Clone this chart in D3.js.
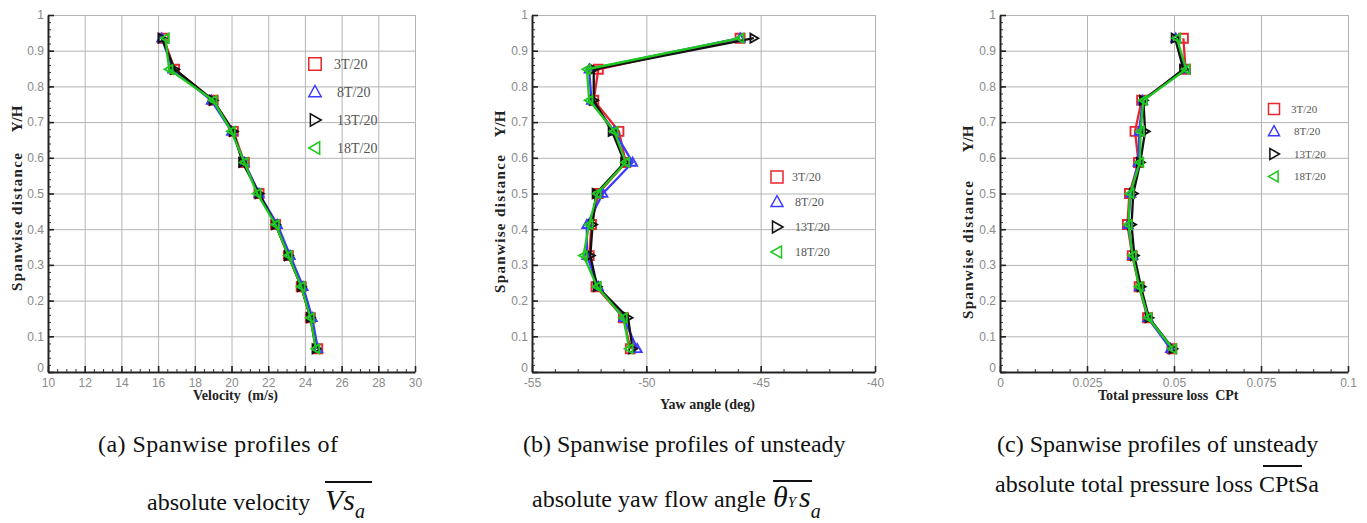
<!doctype html>
<html>
<head>
<meta charset="UTF-8">
<script src="https://cdnjs.cloudflare.com/ajax/libs/d3/7.8.5/d3.min.js"></script>
<style>body{margin:0;background:#fff}</style>
</head>
<body>
<svg id="chart" width="1367" height="523"></svg>
<script>
// shared spanwise positions (Y/H)
var spanY = [0.935, 0.848, 0.761, 0.674, 0.587, 0.5, 0.413, 0.326, 0.239, 0.152, 0.065];
var seriesNames = ["3T/20", "8T/20", "13T/20", "18T/20"];
var seriesColors = ["#e8262d", "#3c3cff", "#111111", "#1ec81e"];
var seriesMarkers = ["square", "up", "right", "left"];

// (a) velocity m/s
var vel3  = [16.3, 16.9, 19.0, 20.1, 20.7, 21.5, 22.4, 23.1, 23.8, 24.3, 24.7];
var vel8  = [16.2, 16.8, 18.9, 20.0, 20.7, 21.5, 22.5, 23.2, 23.9, 24.4, 24.7];
var vel13 = [16.2, 16.9, 19.0, 20.1, 20.6, 21.5, 22.4, 23.1, 23.8, 24.3, 24.6];
var vel18 = [16.4, 16.6, 19.0, 20.0, 20.7, 21.4, 22.4, 23.1, 23.8, 24.3, 24.6];

// (b) yaw angle deg
var yaw3  = [-45.9, -52.1, -52.3, -51.2, -50.9, -52.1, -52.4, -52.5, -52.2, -51.0, -50.7];
var yaw8  = [-45.9, -52.5, -52.4, -51.4, -50.6, -51.9, -52.6, -52.6, -52.1, -51.0, -50.4];
var yaw13 = [-45.3, -52.3, -52.3, -51.5, -50.95, -52.2, -52.35, -52.45, -52.15, -50.8, -50.6];
var yaw18 = [-45.9, -52.6, -52.5, -51.4, -50.9, -52.15, -52.5, -52.75, -52.15, -51.0, -50.75];

// (c) total pressure loss CPt
var cpt3  = [0.0527, 0.0533, 0.0407, 0.0388, 0.0398, 0.0372, 0.0366, 0.0380, 0.0400, 0.0424, 0.0494];
var cpt8  = [0.0505, 0.0532, 0.0410, 0.0400, 0.0397, 0.0376, 0.0368, 0.0382, 0.0401, 0.0425, 0.0490];
var cpt13 = [0.0503, 0.0527, 0.0412, 0.0417, 0.0403, 0.0383, 0.0378, 0.0386, 0.0405, 0.0428, 0.0497];
var cpt18 = [0.0508, 0.0535, 0.0412, 0.0404, 0.0402, 0.0374, 0.0369, 0.0381, 0.0400, 0.0426, 0.0496];

var yTicks = [0, 0.1, 0.2, 0.3, 0.4, 0.5, 0.6, 0.7, 0.8, 0.9, 1];
var xTicksA = [10, 12, 14, 16, 18, 20, 22, 24, 26, 28, 30];
var xTicksB = [-55, -50, -45, -40];
var xTicksC = [0, 0.025, 0.05, 0.075, 0.1];

var plotTop = 15, plotBottom = 372;

var panels = [
  {left: 48, right: 415, ticks: xTicksA, minor: 0.5, series: [vel3, vel8, vel13, vel18],
   xTitle: "Velocity  (m/s)", xTitleX: 193, xTitleY: 400, yTitleX: 22, yhY: 119, spanMid: 222,
   legX: 315, legY: 64, legDy: 28, legS: 6.2, legFont: 14, legTx: 334},
  {left: 532, right: 875, ticks: xTicksB, minor: 1, series: [yaw3, yaw8, yaw13, yaw18],
   xTitle: "Yaw angle (deg)", xTitleX: 660, xTitleY: 409, yTitleX: 505, yhY: 124, spanMid: 224,
   legX: 777, legY: 177, legDy: 25, legS: 6, legFont: 12, legTx: 792},
  {left: 1000, right: 1348, ticks: xTicksC, minor: 0.005, series: [cpt3, cpt8, cpt13, cpt18],
   xTitle: "Total pressure loss  CPt", xTitleX: 1098, xTitleY: 400, yTitleX: 973, yhY: 139, spanMid: 250,
   legX: 1274, legY: 109, legDy: 22.5, legS: 5.5, legFont: 11, legTx: 1291}
];

function markerPath(type, s) {
  if (type === "square") return "M" + (-s) + "," + (-s) + "h" + 2 * s + "v" + 2 * s + "h" + (-2 * s) + "Z";
  if (type === "up") return "M0," + (-s * 1.05) + "L" + s + "," + s * 0.75 + "L" + (-s) + "," + s * 0.75 + "Z";
  if (type === "right") return "M" + s + ",0L" + (-s * 0.75) + "," + (-s) + "L" + (-s * 0.75) + "," + s + "Z";
  return "M" + (-s) + ",0L" + s * 0.75 + "," + (-s) + "L" + s * 0.75 + "," + s + "Z";
}
// plain hyphen for negatives, like the original plot
function fmt(d) { return String(d); }

var serif = "'Liberation Serif', 'Times New Roman', serif";
var sans = "'Liberation Sans', Arial, sans-serif";

var svg = d3.select("#chart");
var y = d3.scaleLinear().domain([0, 1]).range([plotBottom, plotTop]);

panels.forEach(function (p) {
  var x = d3.scaleLinear().domain([p.ticks[0], p.ticks[p.ticks.length - 1]]).range([p.left, p.right]);
  var g = svg.append("g");
  var w = p.right - p.left, h = plotBottom - plotTop;

  // grid
  g.append("g").attr("transform", "translate(0," + plotBottom + ")")
    .call(d3.axisBottom(x).tickValues(p.ticks).tickSize(-h).tickFormat(""))
    .call(function (s) { s.select(".domain").remove(); s.selectAll("line").attr("stroke", "#b4b4b4"); });
  g.append("g").attr("transform", "translate(" + p.left + ",0)")
    .call(d3.axisLeft(y).tickValues(yTicks).tickSize(-w).tickFormat(""))
    .call(function (s) { s.select(".domain").remove(); s.selectAll("line").attr("stroke", "#b4b4b4"); });

  // minor ticks
  var xMinor = d3.range(p.ticks[0], p.ticks[p.ticks.length - 1] + p.minor / 2, p.minor);
  g.append("g").attr("transform", "translate(0," + plotBottom + ")")
    .call(d3.axisBottom(x).tickValues(xMinor).tickSize(-3).tickFormat(""))
    .call(function (s) { s.select(".domain").remove(); s.selectAll("line").attr("stroke", "#333"); });
  g.append("g").attr("transform", "translate(" + p.left + ",0)")
    .call(d3.axisLeft(y).tickValues(d3.range(0, 1.001, 0.02)).tickSize(-3).tickFormat(""))
    .call(function (s) { s.select(".domain").remove(); s.selectAll("line").attr("stroke", "#333"); });

  // major axes
  var xa = g.append("g").attr("transform", "translate(0," + plotBottom + ")")
    .call(d3.axisBottom(x).tickValues(p.ticks).tickSize(-6).tickPadding(4).tickSizeOuter(0).tickFormat(fmt));
  var ya = g.append("g").attr("transform", "translate(" + p.left + ",0)")
    .call(d3.axisLeft(y).tickValues(yTicks).tickSize(-6).tickPadding(4).tickSizeOuter(0).tickFormat(fmt));
  [xa, ya].forEach(function (a) {
    a.select(".domain").attr("stroke", "#222").attr("stroke-width", 2);
    a.selectAll(".tick line").attr("stroke", "#222").attr("stroke-width", 1.6);
    a.selectAll("text").attr("fill", "#8a8a8a").style("font-family", sans).style("font-size", "12px");
  });
  ya.selectAll("text").attr("x", -4);
  ya.selectAll(".tick").filter(function (d) { return d === 0; }).select("text").attr("dy", "-0.05em");
  xa.selectAll("text").attr("y", 6);

  // series
  p.series.forEach(function (vals, i) {
    var pts = vals.map(function (v, j) { return [v, spanY[j]]; });
    g.append("path").datum(pts)
      .attr("fill", "none").attr("stroke", seriesColors[i]).attr("stroke-width", 2.3)
      .attr("d", d3.line().x(function (d) { return x(d[0]); }).y(function (d) { return y(d[1]); }));
    g.selectAll(null).data(pts).enter().append("path")
      .attr("transform", function (d) { return "translate(" + x(d[0]) + "," + y(d[1]) + ")"; })
      .attr("d", markerPath(seriesMarkers[i], 4.5))
      .attr("fill", "none").attr("stroke", seriesColors[i]).attr("stroke-width", 1.9);
  });

  // legend
  seriesNames.forEach(function (name, i) {
    var ly = p.legY + i * p.legDy;
    g.append("path").attr("transform", "translate(" + p.legX + "," + ly + ")")
      .attr("d", markerPath(seriesMarkers[i], p.legS))
      .attr("fill", "none").attr("stroke", seriesColors[i]).attr("stroke-width", 1.5);
    g.append("text").attr("x", p.legTx + (i > 0 ? 3 : 0)).attr("y", ly + p.legFont * 0.35)
      .style("font-family", serif).style("font-size", p.legFont + "px")
      .attr("fill", "#555").text(name);
  });

  // axis titles
  g.append("text").attr("x", p.xTitleX).attr("y", p.xTitleY)
    .style("font-family", serif).style("font-weight", "bold").style("font-size", "14px")
    .attr("fill", "#222").attr("xml:space", "preserve").style("white-space", "pre").text(p.xTitle);
  g.append("text").attr("transform", "translate(" + p.yTitleX + "," + p.spanMid + ")rotate(-90)")
    .attr("text-anchor", "middle")
    .style("font-family", serif).style("font-weight", "bold").style("font-size", "15px")
    .attr("fill", "#222").attr("textLength", 138).attr("lengthAdjust", "spacing").text("Spanwise distance");
  g.append("text").attr("transform", "translate(" + p.yTitleX + "," + p.yhY + ")rotate(-90)")
    .attr("text-anchor", "middle")
    .style("font-family", serif).style("font-weight", "bold").style("font-size", "15px")
    .attr("fill", "#222").text("Y/H");
});

// captions
function cap(xp, yp, txt) {
  return svg.append("text").attr("x", xp).attr("y", yp)
    .style("font-family", serif).style("font-size", "24px").attr("fill", "#111").text(txt);
}
cap(98, 452, "(a) Spanwise profiles of").attr("textLength", 240).attr("lengthAdjust", "spacing");
cap(147, 510, "absolute velocity");
var ma = svg.append("text").attr("x", 325).attr("y", 510).style("font-family", serif).attr("fill", "#111");
ma.append("tspan").style("font-style", "italic").style("font-size", "30px").text("Vs");
ma.append("tspan").attr("dy", 8).style("font-style", "italic").style("font-size", "20px").text("a");
svg.append("line").attr("x1", 325).attr("x2", 372).attr("y1", 482).attr("y2", 482).attr("stroke", "#111").attr("stroke-width", 2);

cap(523, 452, "(b) Spanwise profiles of unsteady");
cap(532, 507, "absolute yaw flow angle");
var mb = svg.append("text").attr("x", 773).attr("y", 507).style("font-family", serif).attr("fill", "#111");
mb.append("tspan").style("font-style", "italic").style("font-size", "30px").text("θ");
mb.append("tspan").style("font-style", "italic").style("font-size", "15px").text("Y");
mb.append("tspan").attr("dx", 3).style("font-style", "italic").style("font-size", "30px").text("s");
mb.append("tspan").attr("dy", 11).style("font-style", "italic").style("font-size", "20px").text("a");
svg.append("line").attr("x1", 773).attr("x2", 812).attr("y1", 481).attr("y2", 481).attr("stroke", "#111").attr("stroke-width", 2);

cap(997, 452, "(c) Spanwise profiles of unsteady");
cap(995, 492, "absolute total pressure loss CPtSa");
svg.append("line").attr("x1", 1263).attr("x2", 1302).attr("y1", 466).attr("y2", 466).attr("stroke", "#111").attr("stroke-width", 2);
</script>
</body>
</html>
